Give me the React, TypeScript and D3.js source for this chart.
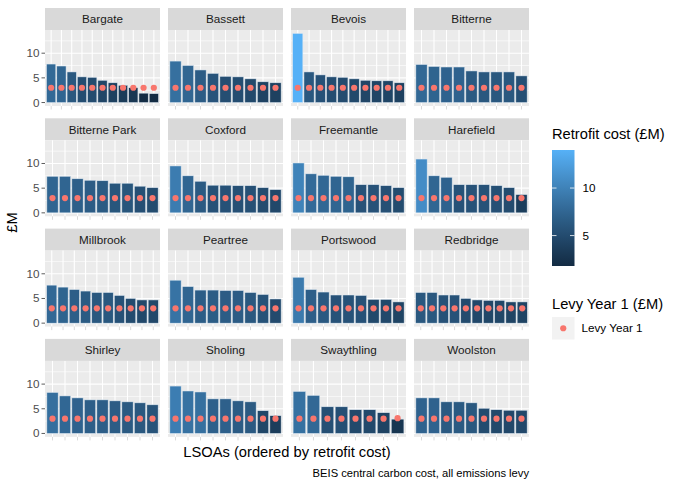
import React from 'react';
import * as d3 from 'd3';

const wards = [
  "Bargate", "Bassett", "Bevois", "Bitterne",
  "Bitterne Park", "Coxford", "Freemantle", "Harefield",
  "Millbrook", "Peartree", "Portswood", "Redbridge",
  "Shirley", "Sholing", "Swaythling", "Woolston",
];

// retrofit cost (£M) per LSOA, ordered by cost
const retrofitCost: number[][] = [
  [7.8, 7.4, 6.2, 5.2, 5.1, 4.5, 4.0, 3.5, 3.0, 1.9, 1.8],
  [8.4, 7.5, 6.6, 5.9, 5.3, 5.2, 4.8, 4.2, 4.0],
  [14.0, 6.2, 5.6, 5.2, 5.1, 4.8, 4.5, 4.4, 4.4, 4.0],
  [7.7, 7.3, 7.2, 7.2, 6.4, 6.2, 6.2, 6.2, 5.4],
  [7.4, 7.4, 6.9, 6.6, 6.5, 6.0, 6.0, 5.4, 5.1],
  [9.5, 7.5, 6.4, 5.6, 5.6, 5.5, 5.5, 5.1, 4.7],
  [10.1, 7.9, 7.6, 7.4, 7.3, 5.7, 5.7, 5.5, 5.1],
  [10.9, 7.5, 7.2, 5.7, 5.7, 5.7, 5.5, 5.1, 3.7],
  [7.7, 7.3, 6.8, 6.5, 6.2, 6.2, 5.6, 5.0, 4.7, 4.7],
  [8.7, 7.4, 6.7, 6.7, 6.6, 6.6, 6.2, 5.8, 4.9],
  [9.3, 6.8, 6.3, 5.7, 5.7, 5.6, 4.8, 4.8, 4.3],
  [6.2, 6.2, 5.7, 5.7, 5.0, 4.7, 4.6, 4.6, 4.3, 4.3],
  [8.3, 7.6, 7.2, 6.8, 6.8, 6.6, 6.4, 6.2, 5.8],
  [9.6, 8.6, 8.4, 7.0, 7.0, 6.6, 6.4, 4.6, 3.6],
  [8.5, 7.7, 5.4, 5.4, 4.8, 4.8, 4.2, 2.9],
  [7.2, 7.2, 6.4, 6.4, 6.2, 5.1, 4.8, 4.7, 4.7],
];

// levy year 1 (£M) per LSOA
const levyYear1: number[][] = [
  [3.0, 3.0, 3.0, 3.0, 3.0, 3.0, 3.0, 3.0, 3.0, 3.0, 3.0],
  [3.0, 3.0, 3.0, 3.0, 3.0, 3.0, 3.0, 3.0, 3.0],
  [3.0, 3.0, 3.0, 3.0, 3.0, 3.0, 3.0, 3.0, 3.0, 3.0],
  [3.0, 3.0, 3.0, 3.0, 3.0, 3.0, 3.0, 3.0, 3.0],
  [3.0, 3.0, 3.0, 3.0, 3.0, 3.0, 3.0, 3.0, 3.0],
  [3.0, 3.0, 3.0, 3.0, 3.0, 3.0, 3.0, 3.0, 3.0],
  [3.0, 3.0, 3.0, 3.0, 3.0, 3.0, 3.0, 3.0, 3.0],
  [3.0, 3.0, 3.0, 3.0, 3.0, 3.0, 3.0, 3.0, 3.0],
  [3.0, 3.0, 3.0, 3.0, 3.0, 3.0, 3.0, 3.0, 3.0, 3.0],
  [3.0, 3.0, 3.0, 3.0, 3.0, 3.0, 3.0, 3.0, 3.0],
  [3.0, 3.0, 3.0, 3.0, 3.0, 3.0, 3.0, 3.0, 3.0],
  [3.0, 3.0, 3.0, 3.0, 3.0, 3.0, 3.0, 3.0, 3.0, 3.0],
  [3.0, 3.0, 3.0, 3.0, 3.0, 3.0, 3.0, 3.0, 3.0],
  [3.0, 3.0, 3.0, 3.0, 3.0, 3.0, 3.0, 3.0, 3.0],
  [3.0, 3.0, 3.0, 3.0, 3.0, 3.0, 3.0, 3.1],
  [3.0, 3.0, 3.0, 3.0, 3.0, 3.0, 3.0, 3.0, 3.0],
];

const yTicks = [0, 5, 10];
const yMinor = [2.5, 7.5, 12.5];
const legendTicks = [5, 10];

const FONT = "'Liberation Sans', Arial, Helvetica, sans-serif";
const W = 680;
const H = 486;

const left = 45;
const panelW = 115;
const gapX = 8;
const top = 8;
const stripH = 22;
const panelH = 76;
const rowPitch = 110.3;

const allCost = retrofitCost.flat();
const costMin = d3.min(allCost)!;
const costMax = d3.max(allCost)!;
const yMax = Math.max(costMax, d3.max(levyYear1.flat())!);
const pad = yMax * 0.05;

const fill = d3.scaleLinear<string>()
  .domain([costMin, costMax])
  .range(["#132B43", "#56B1F7"])
  .interpolate(d3.interpolateLab);

const Panel: React.FC<{ idx: number }> = ({ idx }) => {
  const col = idx % 4;
  const row = Math.floor(idx / 4);
  const x0 = left + col * (panelW + gapX);
  const sTop = top + row * rowPitch;
  const pTop = sTop + stripH;
  const pBottom = pTop + panelH;

  const costs = retrofitCost[idx];
  const levy = levyYear1[idx];
  const keys = costs.map((_, i) => i + 1);

  const x = d3.scaleLinear()
    .domain([0.4, costs.length + 0.6])
    .range([x0, x0 + panelW]);
  const y = d3.scaleLinear()
    .domain([-pad, yMax + pad])
    .range([pBottom, pTop]);
  const bw = x(1.45) - x(0.55);

  return (
    <g>
      <rect x={x0} y={sTop} width={panelW} height={stripH} fill="#D9D9D9" />
      <text x={x0 + panelW / 2} y={sTop + stripH / 2 + 4.2} textAnchor="middle"
        fontSize={11.7} fill="#1A1A1A">{wards[idx]}</text>
      <rect x={x0} y={pTop} width={panelW} height={panelH} fill="#EBEBEB" />
      {yMinor.map(t => (
        <line key={'m' + t} x1={x0} x2={x0 + panelW} y1={y(t)} y2={y(t)}
          stroke="#fff" strokeWidth={0.6} />
      ))}
      {yTicks.map(t => (
        <line key={'g' + t} x1={x0} x2={x0 + panelW} y1={y(t)} y2={y(t)}
          stroke="#fff" strokeWidth={1.1} />
      ))}
      {keys.map(k => (
        <line key={'v' + k} x1={x(k)} x2={x(k)} y1={pTop} y2={pBottom}
          stroke="#fff" strokeWidth={1.1} />
      ))}
      {costs.map((c, i) => (
        <rect key={'b' + i} x={x(i + 1) - bw / 2} y={y(c)} width={bw}
          height={y(0) - y(c)} fill={fill(c)} stroke="#dbe6f0" strokeWidth={0.5} />
      ))}
      {levy.map((v, i) => (
        <circle key={'p' + i} cx={x(i + 1)} cy={y(v)} r={3.1} fill="#F8766D" />
      ))}
      {keys.map(k => (
        <line key={'t' + k} x1={x(k)} x2={x(k)} y1={pBottom} y2={pBottom + 3.5}
          stroke="#d0d0d0" strokeWidth={0.8} />
      ))}
      {col === 0 && yTicks.map(t => (
        <g key={'yt' + t}>
          <line x1={x0 - 3.5} x2={x0} y1={y(t)} y2={y(t)} stroke="#333" strokeWidth={0.8} />
          <text x={x0 - 5.5} y={y(t) + 4} textAnchor="end" fontSize={11.7} fill="#4D4D4D">{t}</text>
        </g>
      ))}
    </g>
  );
};

const App: React.FC = () => {
  const barTop = 150;
  const barBottom = 266;
  const legX = 552;
  const legW = 22.5;
  const ly = d3.scaleLinear().domain([costMin, costMax]).range([barBottom, barTop]);
  const stops = d3.range(0, 1.0001, 0.1);
  const lastBottom = top + 3 * rowPitch + stripH + panelH;

  return (
    <svg width={W} height={H} fontFamily={FONT}
      style={{ position: 'absolute', left: 0, top: 0, background: '#fff' }}>
      <defs>
        <linearGradient id="cbar" x1="0" y1="1" x2="0" y2="0">
          {stops.map(s => (
            <stop key={s} offset={s} stopColor={fill(costMin + s * (costMax - costMin))} />
          ))}
        </linearGradient>
      </defs>
      {wards.map((_, i) => <Panel key={i} idx={i} />)}

      <text transform={`translate(17,${(top + lastBottom) / 2}) rotate(-90)`}
        textAnchor="middle" fontSize={14.7} fill="#000">£M</text>
      <text x={left + (4 * panelW + 3 * gapX) / 2} y={457} textAnchor="middle"
        fontSize={14.7} fill="#000">LSOAs (ordered by retrofit cost)</text>
      <text x={left + 4 * panelW + 3 * gapX} y={477} textAnchor="end"
        fontSize={11.2} fill="#000">BEIS central carbon cost, all emissions levy</text>

      <text x={legX} y={139} fontSize={14.7} fill="#000">Retrofit cost (£M)</text>
      <rect x={legX} y={barTop} width={legW} height={barBottom - barTop} fill="url(#cbar)" />
      {legendTicks.map(t => (
        <g key={t}>
          <line x1={legX} x2={legX + 4.5} y1={ly(t)} y2={ly(t)} stroke="#fff" strokeWidth={0.8} />
          <line x1={legX + legW - 4.5} x2={legX + legW} y1={ly(t)} y2={ly(t)} stroke="#fff" strokeWidth={0.8} />
          <text x={legX + legW + 8} y={ly(t) + 4} fontSize={11.7} fill="#000">{t}</text>
        </g>
      ))}

      <text x={legX} y={309} fontSize={14.7} fill="#000">Levy Year 1 (£M)</text>
      <rect x={legX} y={317} width={legW} height={legW} fill="#F2F2F2" />
      <circle cx={legX + legW / 2} cy={317 + legW / 2} r={3.1} fill="#F8766D" />
      <text x={legX + legW + 7} y={317 + legW / 2 + 4} fontSize={11.7} fill="#000">Levy Year 1</text>
    </svg>
  );
};

export default App;
